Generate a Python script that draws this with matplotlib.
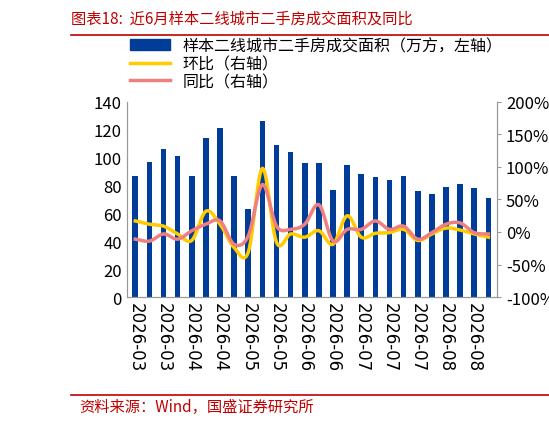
import numpy as np
import matplotlib
matplotlib.use("Agg")
import matplotlib.pyplot as plt
from matplotlib.lines import Line2D

plt.rcParams['font.family'] = ['Noto Sans CJK SC', 'DejaVu Sans']

area = [87, 97, 106, 101, 87, 114, 121, 87, 63, 126, 109, 104, 96, 96, 77, 95, 88, 86, 84, 87, 76, 74, 79, 81, 78, 71]
mom = [17, 12, 9, -3, -13, 32, 12, -24, -31, 98, -16, -3, -8, 2, -19, 25, -8, -2, -1, 4, -13, -3, 6, 3, -3, -8]
yoy = [-11, -14, -3, -11, 2, 12, 17, -19, -6, 73, 9, 4, 12, 42, -14, 4, 4, 17, 4, 9, -11, -1, 12, 14, -1, -3]
tick_labels = ["2026-03", "2026-03", "2026-04", "2026-04", "2026-05", "2026-05", "2026-06",
               "2026-06", "2026-07", "2026-07", "2026-07", "2026-08", "2026-08"]

def smooth(y, n=12):
    y = np.asarray(y, float)
    x = np.arange(len(y))
    m = np.gradient(y)
    xs, ys = [], []
    for i in range(len(y) - 1):
        t = np.linspace(0, 1, n, endpoint=False)
        h00 = 2*t**3 - 3*t**2 + 1; h10 = t**3 - 2*t**2 + t
        h01 = -2*t**3 + 3*t**2; h11 = t**3 - t**2
        xs.append(x[i] + t)
        ys.append(h00*y[i] + h10*m[i] + h01*y[i+1] + h11*m[i+1])
    xs.append([x[-1]]); ys.append([y[-1]])
    return np.concatenate(xs), np.concatenate(ys)

fig = plt.figure(figsize=(5.49, 4.27), dpi=100)
ax = fig.add_axes([0.231, 0.302, 0.674, 0.457])
ax2 = ax.twinx()
x = np.arange(len(area))
ax.bar(x, area, width=0.4, color='#003D99', zorder=2)
ax.set_ylim(0, 140)
ax.set_yticks(range(0, 141, 20))
ax.set_xlim(-0.6, len(area) - 0.4)
ax.set_xticks(x[::2])
ax.set_xticklabels(tick_labels, rotation=-90, fontsize=12, family=['DejaVu Sans'])
ax.tick_params(axis='y', labelsize=12, length=0)
ax.tick_params(axis='x', length=0)
ax2.set_ylim(-100, 200)
ax2.set_yticks(range(-100, 201, 50))
ax2.set_yticklabels([f"{v}%" for v in range(-100, 201, 50)], fontsize=12)
ax2.tick_params(axis='y', length=3, color='#999999')
xs, ys = smooth(mom)
ax2.plot(xs, ys, color='#FFCC00', lw=2.5, zorder=3)
xs, ys = smooth(yoy)
ax2.plot(xs, ys, color='#F08080', lw=2.5, zorder=4)
for a in (ax, ax2):
    a.spines['top'].set_visible(False)
    for s in ('left', 'right', 'bottom'):
        a.spines[s].set_color('#999999')

handles = [plt.Rectangle((0, 0), 1, 1, color='#003D99'),
           Line2D([], [], color='#FFCC00', lw=2.5),
           Line2D([], [], color='#F08080', lw=2.5)]
fig.legend(handles, ["样本二线城市二手房成交面积（万方，左轴）", "环比（右轴）", "同比（右轴）"],
           loc='upper left', bbox_to_anchor=(0.225, 0.925), frameon=False, fontsize=11.5,
           handlelength=2.5, labelspacing=0.05, borderaxespad=0)

fig.text(0.13, 0.955, "图表18:  近6月样本二线城市二手房成交面积及同比", color='#C00000',
         fontsize=11, style='italic', va='center')
fig.add_artist(Line2D([0.13, 1.0], [0.915, 0.915], color='#C00000', lw=1.2))
fig.add_artist(Line2D([0.13, 1.0], [0.073, 0.073], color='#C00000', lw=1.2))
fig.text(0.145, 0.045, "资料来源：Wind，国盛证券研究所", color='#C00000', fontsize=11,
         style='italic', va='center')
fig.savefig("out.png", dpi=100)
